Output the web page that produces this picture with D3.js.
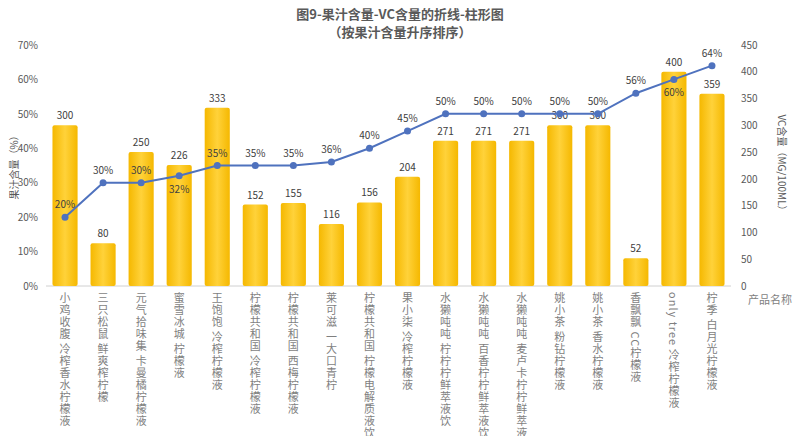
<!DOCTYPE html>
<html><head><meta charset="utf-8">
<script src="https://cdn.jsdelivr.net/npm/d3@7"></script>
<style>body{margin:0;background:#fff}text{font-family:"Noto Sans CJK SC","Noto Sans",sans-serif}</style>
</head><body><svg id="c" width="800" height="436"></svg>
<script>
const names = ["小鸡收腹 冷榨香水柠檬液","三只松鼠 鲜爽榨柠檬","元气拾味集 卡曼橘柠檬液","蜜雪冰城 柠檬液","王饱饱 冷榨柠檬液","柠檬共和国 冷榨柠檬液","柠檬共和国 西梅柠檬液","莱可滋 一大口青柠","柠檬共和国 柠檬电解质液饮","果小柒 冷榨柠檬液","水獭吨吨 柠柠柠鲜萃液饮","水獭吨吨 百香柠柠鲜萃液饮","水獭吨吨 麦卢卡柠柠鲜萃液饮","姚小茶 粉钻柠檬液","姚小茶 香水柠檬液","香飘飘 CC柠檬液","only tree 冷榨柠檬液","柠季 白月光柠檬液"];
const juice = [20,30,30,32,35,35,35,36,40,45,50,50,50,50,50,56,60,64];
const vc = [300,80,250,226,333,152,155,116,156,204,271,271,271,300,300,52,400,359];
const leftTicks = [0,10,20,30,40,50,60,70];
const rightTicks = [0,50,100,150,200,250,300,350,400,450];

const svg = d3.select("#c");
const plotTop = 45, plotBottom = 286;
const x = d3.scaleBand().domain(d3.range(names.length)).range([46, 731]).paddingInner(0.34).paddingOuter(0.17);
const yL = d3.scaleLinear().domain([0, 70]).range([plotBottom, plotTop]);
const yR = d3.scaleLinear().domain([0, 450]).range([plotBottom, plotTop]);
const grey = "#595959";

svg.append("text").attr("x", 400).attr("y", 19).attr("text-anchor", "middle")
  .attr("font-size", 13).attr("font-weight", "bold").attr("fill", grey).text("图9-果汁含量-VC含量的折线-柱形图");
svg.append("text").attr("x", 400).attr("y", 37).attr("text-anchor", "middle")
  .attr("font-size", 13).attr("font-weight", "bold").attr("fill", grey).text("（按果汁含量升序排序）");

// axes
const gl = svg.append("g").attr("transform", "translate(46,0)")
  .call(d3.axisLeft(yL).tickValues(leftTicks).tickFormat(d => d + "%").tickSize(0).tickPadding(8));
const gr = svg.append("g").attr("transform", "translate(731,0)")
  .call(d3.axisRight(yR).tickValues(rightTicks).tickSize(0).tickPadding(10));
[gl, gr].forEach(g => {
  g.select(".domain").remove();
  g.selectAll("text").attr("fill", grey).attr("font-size", 10).attr("font-family", "Noto Sans");
});
svg.append("line").attr("x1", 46).attr("x2", 731).attr("y1", plotBottom).attr("y2", plotBottom).attr("stroke", "#d0d0d0");

// bars
const grad = svg.append("defs").append("linearGradient").attr("id", "gb").attr("x1", 0).attr("x2", 1);
grad.append("stop").attr("offset", "0%").attr("stop-color", "#f5b800");
grad.append("stop").attr("offset", "50%").attr("stop-color", "#ffd23a");
grad.append("stop").attr("offset", "100%").attr("stop-color", "#f5b800");
svg.append("g").selectAll("rect").data(vc).join("rect")
  .attr("x", (d, i) => x(i)).attr("width", x.bandwidth())
  .attr("y", d => yR(d)).attr("height", d => plotBottom - yR(d))
  .attr("rx", 2).attr("fill", "url(#gb)");
svg.append("g").selectAll("text").data(vc).join("text")
  .attr("x", (d, i) => x(i) + x.bandwidth() / 2).attr("y", d => yR(d) - 6)
  .attr("text-anchor", "middle").attr("font-size", 10).attr("fill", "#404040").attr("font-family", "Noto Sans").text(d => d);

// line
const cx = i => x(i) + x.bandwidth() / 2;
svg.append("path").datum(juice)
  .attr("d", d3.line().x((d, i) => cx(i)).y(d => yL(d)))
  .attr("fill", "none").attr("stroke", "#4f72be").attr("stroke-width", 2);
svg.append("g").selectAll("circle").data(juice).join("circle")
  .attr("cx", (d, i) => cx(i)).attr("cy", d => yL(d)).attr("r", 3.5).attr("fill", "#4f72be");
const below = new Set([3, 16]);
svg.append("g").selectAll("text").data(juice).join("text")
  .attr("x", (d, i) => cx(i)).attr("y", (d, i) => below.has(i) ? yL(d) + 17 : yL(d) - 9)
  .attr("text-anchor", "middle").attr("font-size", 10).attr("fill", "#404040").attr("font-family", "Noto Sans").text(d => d + "%");

// category labels
svg.append("g").selectAll("text").data(names).join("text")
  .attr("x", (d, i) => cx(i)).attr("y", 292)
  .style("writing-mode", "vertical-rl").attr("font-size", 11).attr("fill", "#7f7f7f")
  .attr("letter-spacing", 1).text(d => d);

// axis titles
svg.append("text").attr("transform", "translate(18,165) rotate(-90)").attr("text-anchor", "middle")
  .attr("font-size", 10).attr("fill", grey).text("果汁含量（%）");
svg.append("text").attr("transform", "translate(778,165) rotate(90)").attr("text-anchor", "middle")
  .attr("font-size", 10).attr("fill", grey).text("VC含量（MG/100ML）");
svg.append("text").attr("x", 770).attr("y", 304).attr("text-anchor", "middle")
  .attr("font-size", 11).attr("fill", "#7f7f7f").text("产品名称");
</script></body></html>
